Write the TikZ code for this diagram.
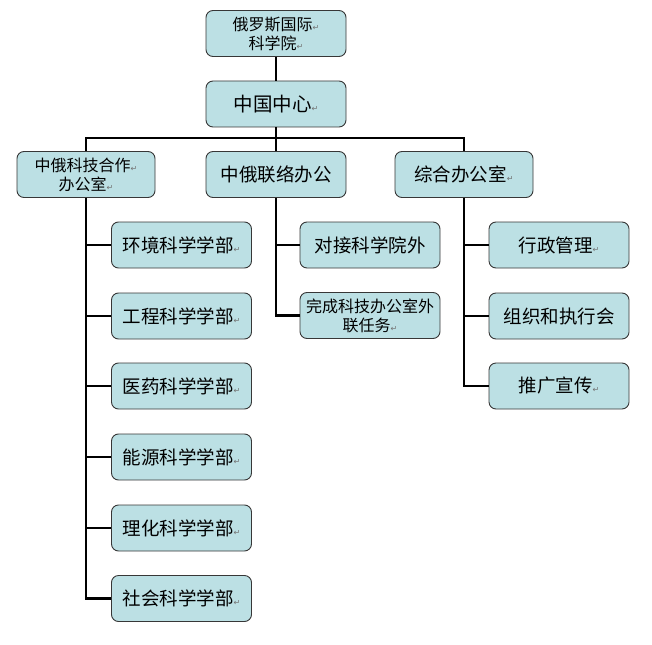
\documentclass[tikz,border=0pt]{standalone}
\usepackage{fontspec}
\setmainfont{Noto Sans CJK SC}
\newfontfamily\symf{DejaVu Sans}
\definecolor{boxfill}{RGB}{188,224,228}
\definecolor{boxline}{RGB}{55,55,55}
\newcommand\rtn{{\fontsize{8}{8}\selectfont\color{black!55}\symf ↵}}
\tikzset{
  box/.style={draw=boxline, line width=0.9pt, fill=boxfill, rounded corners=7pt,
    minimum width=140pt, minimum height=46pt, inner sep=2pt, align=center,
    font=\fontsize{18.5}{21}\selectfont},
  smallbox/.style={box, font=\fontsize{16}{19}\selectfont},
  conn/.style={line width=2.8pt, black}
}
\begin{document}
\begin{tikzpicture}[x=1pt,y=-1pt]
\useasboundingbox (0,0) rectangle (652,644);
% top
\node[smallbox] (top) at (276,33.5) {俄罗斯国际\rtn\\科学院\rtn};
\node[box, font=\fontsize{19.5}{22}\selectfont] (cn) at (276,104) {中国中心\rtn};
% second row
\node[smallbox, minimum width=138pt] (L) at (86,174.5) {中俄科技合作\rtn\\办公室\rtn};
\node[box] (M) at (276,174.5) {中俄联络办公};
\node[box, minimum width=138pt] (R) at (464,174.5) {综合办公室\rtn};
% left children
\node[box] (l1) at (181.5,245) {环境科学学部\rtn};
\node[box] (l2) at (181.5,316) {工程科学学部\rtn};
\node[box] (l3) at (181.5,386) {医药科学学部\rtn};
\node[box] (l4) at (181.5,457) {能源科学学部\rtn};
\node[box] (l5) at (181.5,528) {理化科学学部\rtn};
\node[box] (l6) at (181.5,598.5) {社会科学学部\rtn};
% middle children
\node[box] (m1) at (370,245) {对接科学院外};
\node[smallbox] (m2) at (370,315.5) {完成科技办公室外\\联任务\rtn};
% right children
\node[box] (r1) at (559,245) {行政管理\rtn};
\node[box] (r2) at (559,316) {组织和执行会};
\node[box] (r3) at (559,386) {推广宣传\rtn};
% connectors
\coordinate (bus) at (276,138);
\draw[conn] (top) -- (cn);
\draw[conn] (cn) -- (bus);
\draw[conn] (bus) -| (L.north);
\draw[conn] (bus) -| (R.north);
\draw[conn] (bus) -- (M.north);
\foreach \c in {l1,l2,l3,l4,l5,l6}{\draw[conn] (L.south) |- (\c.west);}
\foreach \c in {m1,m2}{\draw[conn] (M.south) |- (\c.west);}
\foreach \c in {r1,r2,r3}{\draw[conn] (R.south) |- (\c.west);}
\end{tikzpicture}
\end{document}
